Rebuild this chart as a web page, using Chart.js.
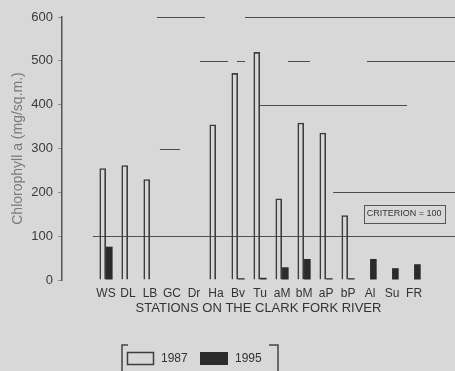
<!DOCTYPE html>
<html><head><meta charset="utf-8">
<script src="https://cdn.jsdelivr.net/npm/chart.js@4.4.1/dist/chart.umd.min.js"></script>
<style>html,body{margin:0;padding:0;background:#d8d8d8;}#wrap{width:455px;height:371px;position:relative;}</style>
</head><body><div id="wrap"><canvas id="c"></canvas></div>
<script>
// ---- data ----
const stations = ['WS','DL','LB','GC','Dr','Ha','Bv','Tu','aM','bM','aP','bP','Al','Su','FR'];
const chl1987  = [255, 262, 230, 0, 0, 355, 472, 520, 186, 359, 336, 148, 0, 0, 0];
const chl1995  = [76, 0, 0, 0, 0, 0, 4, 5, 29, 48, 4, 4, 48, 27, 36];
const yTicks   = [0, 100, 200, 300, 400, 500, 600];
const criterion = 100;
const seriesLabels = ['1987', '1995'];

const FONT = "'Liberation Sans', Arial, Helvetica, sans-serif";
Chart.defaults.font.family = FONT;

const decor = {
  id: 'decor',
  beforeDraw(chart) {
    const ctx = chart.ctx;
    ctx.save(); ctx.fillStyle = '#d8d8d8'; ctx.fillRect(0, 0, chart.width, chart.height); ctx.restore();
  },
  beforeDatasetsDraw(chart, args, opts) {
    const {ctx, scales: {x, y}, chartArea} = chart;
    ctx.save();
    ctx.strokeStyle = '#4c4c4c'; ctx.lineWidth = 1;
    opts.segments.forEach(([v, a, b]) => {
      const py = Math.round(y.getPixelForValue(v)) + 0.5;
      ctx.beginPath();
      ctx.moveTo(x.getPixelForValue(a), py);
      ctx.lineTo(Math.min(x.getPixelForValue(b), chartArea.right), py);
      ctx.stroke();
    });
    // criterion line
    const cy = Math.round(y.getPixelForValue(criterion)) + 0.5;
    ctx.strokeStyle = '#505050';
    ctx.beginPath();
    ctx.moveTo(x.getPixelForValue(opts.criterionFrom), cy);
    ctx.lineTo(chartArea.right, cy);
    ctx.stroke();
    ctx.restore();
  },
  afterDraw(chart, args, opts) {
    const {ctx, scales: {x, y}} = chart;
    ctx.save();
    // criterion label box
    ctx.font = '9px ' + FONT;
    const txt = 'CRITERION = ' + criterion;
    const tw = ctx.measureText(txt).width;
    const cx = x.getPixelForValue(opts.labelAt[0]);
    const cyy = y.getPixelForValue(opts.labelAt[1]);
    ctx.fillStyle = '#333'; ctx.textAlign = 'center'; ctx.textBaseline = 'middle';
    ctx.fillText(txt, cx, cyy);
    ctx.strokeStyle = '#555'; ctx.lineWidth = 1;
    ctx.strokeRect(Math.round(cx - tw / 2 - 3) + 0.5, Math.round(cyy - 9) + 0.5, Math.round(tw + 6), 18);

    // legend (bracketed box at the bottom)
    const ds = chart.data.datasets;
    const L = 122, R = 278, T = 345, B = chart.height;
    ctx.strokeStyle = '#444'; ctx.lineWidth = 1.5;
    ctx.beginPath(); ctx.moveTo(L + 6, T); ctx.lineTo(L, T); ctx.lineTo(L, B); ctx.stroke();
    ctx.beginPath(); ctx.moveTo(R - 9, T); ctx.lineTo(R, T); ctx.lineTo(R, B); ctx.stroke();
    ctx.font = '12px ' + FONT; ctx.textAlign = 'left'; ctx.textBaseline = 'middle';
    const items = [{bx: 127, tx: 161}, {bx: 200, tx: 235}];
    items.forEach((it, i) => {
      const d = ds[i];
      if (i === 0) {
        ctx.strokeStyle = d.borderColor; ctx.lineWidth = 1.5;
        ctx.strokeRect(it.bx + 0.5, 352.5, 26, 12);
      } else {
        ctx.fillStyle = d.backgroundColor; ctx.fillRect(it.bx, 352, 28, 13);
      }
      ctx.fillStyle = '#333';
      ctx.fillText(d.label, it.tx, 359);
    });
    ctx.restore();
  }
};

new Chart(document.getElementById('c'), {
  type: 'bar',
  data: {
    datasets: [
      { label: seriesLabels[0], data: chl1987.map((v, i) => ({x: i, y: v})),
        backgroundColor: 'rgba(0,0,0,0)', borderColor: '#3c3c3c', borderWidth: 1.6, borderSkipped: 'bottom',
        categoryPercentage: 0.6, barPercentage: 1 },
      { label: seriesLabels[1], data: chl1995.map((v, i) => ({x: i, y: v})),
        backgroundColor: '#2b2b2b', borderWidth: 0,
        categoryPercentage: 0.6, barPercentage: 1 }
    ]
  },
  options: {
    responsive: true, maintainAspectRatio: false, animation: false, devicePixelRatio: 1,
    layout: { padding: { top: 17, right: 0, bottom: 53, left: 0 } },
    plugins: {
      legend: { display: false }, tooltip: { enabled: false },
      decor: {
        segments: [
          [600, 2.32, 4.5], [600, 6.32, 16],
          [500, 4.27, 5.55], [500, 5.95, 6.32], [500, 8.27, 9.27], [500, 11.86, 16],
          [400, 7.0, 13.68],
          [300, 2.45, 3.36],
          [200, 10.32, 16]
        ],
        criterionFrom: -0.6,
        labelAt: [13.55, 151]
      }
    },
    scales: {
      x: {
        type: 'linear', min: -2, max: 15.86, offset: false,
        afterBuildTicks: s => { s.ticks = stations.map((_, i) => ({value: i})); },
        ticks: { callback: v => stations[v] ?? '', autoSkip: false, maxRotation: 0, minRotation: 0,
                 padding: 6, color: '#333', font: { size: 12 } },
        grid: { display: false, drawTicks: false, offset: false },
        border: { display: false },
        title: { display: true, text: 'STATIONS ON THE CLARK FORK RIVER', color: '#333',
                 font: { size: 13 }, padding: { top: 0, bottom: 2 } },
        afterFit: s => { s.height = 38; }
      },
      y: {
        min: 0, max: 600,
        afterBuildTicks: s => { s.ticks = yTicks.map(v => ({value: v})); },
        ticks: { color: '#3a3a3a', font: { size: 13 }, padding: 5 },
        grid: { display: true, drawOnChartArea: false, drawTicks: true, tickLength: 4, color: '#8a8a8a' },
        border: { display: true, color: '#555', width: 1.5 },
        title: { display: true, text: 'Chlorophyll a (mg/sq.m.)', color: '#7a7a7a',
                 font: { size: 14 }, padding: { top: 10, bottom: 0 } },
        afterFit: s => { s.width = 62; }
      }
    }
  },
  plugins: [decor]
});
</script></body></html>
